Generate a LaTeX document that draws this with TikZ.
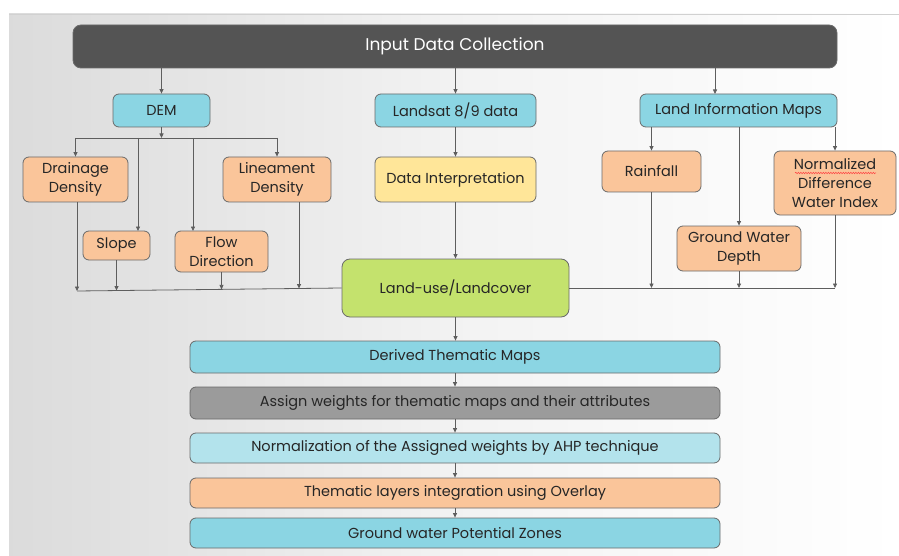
\documentclass[tikz,border=0pt]{standalone}
\usepackage{fontspec}
\setmainfont{Poppins}
\usetikzlibrary{arrows.meta,calc,decorations.pathmorphing}
\definecolor{cyanbox}{HTML}{8BD5E3}
\definecolor{lightcyan}{HTML}{B3E3EC}
\definecolor{peach}{HTML}{FAC59A}
\definecolor{yellowbox}{HTML}{FFE699}
\definecolor{greenbox}{HTML}{C4E26D}
\definecolor{darkbox}{HTML}{545454}
\definecolor{graybox}{HTML}{9B9B9B}
\definecolor{boxborder}{HTML}{6A6A6A}
\definecolor{lin}{HTML}{5E5E5E}
\definecolor{txt}{HTML}{262626}
\begin{document}
\begin{tikzpicture}[x=1pt,y=-1pt,
  box/.style={draw=boxborder, line width=0.8pt, rounded corners=6pt, inner sep=0pt,
    align=center, text=txt, font=\fontsize{14.5}{19}\selectfont},
  cyan/.style={box, fill=cyanbox},
  peachbox/.style={box, fill=peach},
  ln/.style={draw=lin, line width=0.8pt},
  arr/.style={ln, -{Triangle[length=4.5pt,width=4pt]}}
]
\useasboundingbox (0,0) rectangle (899,556);
\fill[white] (0,0) rectangle (899,556);
\shade[left color=black!14, right color=white, middle color=black!5] (9,14) rectangle (899,556);
\draw[black!18, line width=0.8pt] (9,14) -- (899,14);

% top
\node[box, fill=darkbox, text=white, rounded corners=8pt, minimum width=764pt, minimum height=43pt,
  font=\fontsize{17}{20}\selectfont] (input) at (455,46.5) {Input Data Collection};
\node[cyan, minimum width=97pt, minimum height=33pt] (dem) at (161.5,110.5) {DEM};
\node[cyan, minimum width=161pt, minimum height=33pt] (landsat) at (455.5,110.5) {Landsat 8/9 data};
\node[cyan, minimum width=197pt, minimum height=33pt] (lim) at (738.5,110.5) {Land Information Maps};

% DEM children
\node[peachbox, minimum width=105pt, minimum height=45pt] (drain) at (75.5,179.5) {Drainage\\Density};
\node[peachbox, minimum width=108pt, minimum height=45pt] (linea) at (277,179.5) {Lineament\\Density};
\node[peachbox, minimum width=67pt, minimum height=29pt] (slope) at (116.5,245.5) {Slope};
\node[peachbox, minimum width=93pt, minimum height=41pt] (flow) at (221.5,251.5) {Flow\\Direction};

% middle
\node[box, fill=yellowbox, minimum width=161pt, minimum height=45pt] (interp) at (455.5,179.5) {Data Interpretation};
\node[box, fill=greenbox, rounded corners=8pt, minimum width=227pt, minimum height=58pt] (landuse) at (455.5,288) {Land-use/Landcover};

% right children
\node[peachbox, minimum width=99pt, minimum height=41pt] (rain) at (651.5,171.5) {Rainfall};
\node[peachbox, minimum width=124pt, minimum height=45pt] (gwd) at (739,248.5) {Ground Water\\Depth};
\node[peachbox, minimum width=122pt, minimum height=64pt] (ndwi) at (835,183) {Normalized\\Difference\\Water Index};
\coordinate (sqa) at (795,173);
\coordinate (sqb) at (876,173);
\draw[red!75, line width=0.5pt, decorate, decoration={snake, amplitude=0.7pt, segment length=2.5pt}] (sqa) -- (sqb);

% bottom chain
\node[cyan, minimum width=530pt, minimum height=32pt] (derived) at (455,357) {Derived Thematic Maps};
\node[box, fill=graybox, minimum width=530pt, minimum height=32pt] (assign) at (455,403) {Assign weights for thematic maps and their attributes};
\node[box, fill=lightcyan, minimum width=530pt, minimum height=30pt] (norm) at (455,448) {Normalization of the Assigned weights by AHP technique};
\node[peachbox, minimum width=530pt, minimum height=30pt] (them) at (455,493) {Thematic layers integration using Overlay};
\node[cyan, minimum width=530pt, minimum height=30pt] (gwpz) at (455,533) {Ground water Potential Zones};

% connectors from input
\draw[arr] (input.south -| dem.north) -- (dem.north);
\draw[arr] (input.south -| landsat.north) -- (landsat.north);
\coordinate (limin) at (715,94);
\draw[arr] (input.south -| limin) -- (limin);

% DEM branch
\coordinate (demj) at (161.5,138);
\coordinate (bl) at (75.5,138);
\coordinate (br) at (277,138);
\draw[arr] (dem.south) -- (demj);
\draw[ln] (bl) -- (br);
\draw[arr] (bl) -- (drain.north);
\draw[arr] (br) -- (linea.north);
\coordinate (slopein) at (138,231);
\coordinate (flowin) at (193,231);
\draw[arr] (slopein |- bl) -- (slopein);
\draw[arr] (flowin |- bl) -- (flowin);

% left collector
\coordinate (lj) at (77,291);
\draw[ln] (lj) -- (landuse.west);
\coordinate (drainout) at (77,202);
\draw[arr] (drainout) -- (lj);
\coordinate (slopej) at (116.5,290.5);
\draw[arr] (slope.south) -- (slopej);
\coordinate (flowj) at (221.5,289.4);
\draw[arr] (flow.south) -- (flowj);
\coordinate (lineaout) at (299,202);
\coordinate (lineaj) at (299,288.5);
\draw[arr] (lineaout) -- (lineaj);

% middle column
\draw[arr] (landsat.south) -- (interp.north);
\draw[arr] (interp.south) -- (landuse.north);

% right branch
\draw[arr] (lim.south -| rain.north) -- (rain.north);
\draw[arr] (lim.south -| gwd.north) -- (gwd.north);
\draw[arr] (lim.south -| ndwi.north) -- (ndwi.north);
\coordinate (rj) at (835,288);
\draw[ln] (landuse.east) -- (rj);
\draw[arr] (rain.south) -- (rain.south |- rj);
\draw[arr] (gwd.south) -- (gwd.south |- rj);
\draw[arr] (ndwi.south) -- (rj);

% bottom chain
\draw[arr] (landuse.south) -- (landuse.south |- derived.north);
\draw[arr] (derived.south) -- (assign.north);
\draw[arr] (assign.south) -- (norm.north);
\draw[arr] (norm.south) -- (them.north);
\draw[arr] (them.south) -- (gwpz.north);
\end{tikzpicture}
\end{document}
